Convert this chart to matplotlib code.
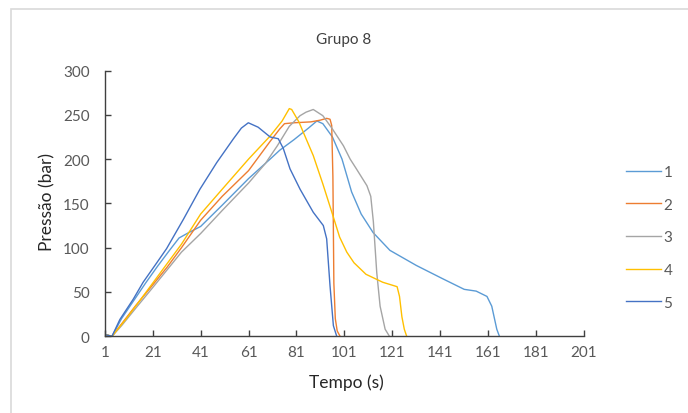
import matplotlib
matplotlib.use("Agg")
import matplotlib.pyplot as plt
from matplotlib.patches import Rectangle

# Pressure (bar) versus time (s) for the five tests of group 8
t1 = [1, 4, 8, 13, 18, 23, 28, 32, 36, 41, 50, 61, 70, 74, 80, 86, 89.5, 92, 96,
      100, 104, 108, 113, 120, 131, 142, 151, 156, 160.5, 162.5, 164.6, 165.7]
p1 = [2, 0, 20, 40, 60, 79, 97, 111, 117, 124, 148, 178, 200, 210, 222, 235, 243,
      240, 225, 200, 163, 138, 117, 97, 80, 65, 53, 51, 45, 34, 8, 0]

t2 = [1, 4, 8, 14, 21, 27, 33, 41, 50, 61, 70, 74, 76, 80, 87, 91, 93.6, 95,
      95.7, 96.2, 96.6, 97.2, 98, 99.2]
p2 = [2, 0, 14, 35, 58, 78, 100, 131, 158, 187, 220, 234, 240, 241, 242, 244,
      246, 245, 238, 180, 60, 20, 6, 0]

t3 = [1, 4, 8, 14, 21, 27, 33, 41, 50, 61, 68, 73, 78, 82.5, 85, 88, 92, 96,
      100.6, 103.4, 106, 110.4, 112, 113.1, 114.5, 115.9, 118, 119.8]
p3 = [2, 0, 12, 32, 55, 75, 95, 116, 142, 173, 195, 215, 237, 249, 253, 256,
      249, 234, 215, 200, 189, 170, 158, 129, 72, 34, 8, 0]

t4 = [1, 4, 10, 15, 21, 27, 33, 41, 50, 61, 70, 75, 78, 79, 82, 88, 92, 96, 99,
      102, 105, 110, 117, 123, 124, 125, 126, 127]
p4 = [2, 0, 20, 38, 60, 82, 104, 138, 166, 200, 226, 243, 257, 256, 242, 204,
      172, 138, 112, 95, 83, 70, 61, 56, 45, 22, 8, 0]

t5 = [1, 4, 7.3, 12.9, 17, 22.7, 26.8, 33.8, 40.7, 47.7, 54.7, 58, 60.9, 65,
      70, 73.4, 75.5, 78.3, 82.5, 88, 92.2, 93.6, 95, 96.4, 97.8]
p5 = [2, 0, 19, 42, 61, 83, 99, 132, 166, 196, 223, 235, 241, 236, 225, 223,
      212, 189, 166, 140, 125, 110, 57, 12, 0]

series_names = ["1", "2", "3", "4", "5"]
series_colors = ["#5B9BD5", "#ED7D31", "#A5A5A5", "#FFC000", "#4472C4"]
x_ticks = list(range(1, 202, 20))
y_ticks = list(range(0, 301, 50))

plt.rcParams["font.family"] = ["Lato", "DejaVu Sans"]

W, H = 688, 414
fig = plt.figure(figsize=(W / 100, H / 100), dpi=100)
fig.patch.set_facecolor("white")

# chart-area frame
fig.patches.append(Rectangle((10.5 / W, -0.1), 1.2, 1.1 - 10.5 / H,
                             transform=fig.transFigure, fill=False,
                             edgecolor="#D9D9D9", linewidth=1.2))

ax = fig.add_axes([104.8 / W, (H - 337.3) / H, 479.2 / W, 265.8 / H])

xs = [t1, t2, t3, t4, t5]
ys = [p1, p2, p3, p4, p5]
for x, y, name, c in zip(xs, ys, series_names, series_colors):
    ax.plot(x, y, color=c, linewidth=1.0, label=name)

ax.set_xlim(1, 201)
ax.set_ylim(0, 300)
ax.set_xticks(x_ticks)
ax.set_yticks(y_ticks)
for s in ("top", "right"):
    ax.spines[s].set_visible(False)
for s in ("left", "bottom"):
    ax.spines[s].set_color("#404040")
    ax.spines[s].set_linewidth(1.0)
ax.tick_params(axis="both", direction="in", length=4, width=1.0,
               color="#404040", labelcolor="#595959", labelsize=11)
ax.tick_params(axis="x", pad=6)
ax.tick_params(axis="y", pad=11)

fig.text(344 / W, 1 - 40 / H, "Grupo 8", ha="center", va="center",
         fontsize=11, color="#404040")
fig.text(346 / W, 1 - 383 / H, "Tempo (s)", ha="center", va="center",
         fontsize=12.5, color="#262626")
fig.text(47.5 / W, 1 - 202 / H, "Pressão (bar)", ha="center", va="center",
         rotation=90, fontsize=12.5, color="#262626")

leg = fig.legend(loc="upper left", bbox_to_anchor=(626 / W, 1 - 166 / H),
                 frameon=False, fontsize=11, handlelength=2.3,
                 handletextpad=0.15, labelspacing=1.22, borderpad=0,
                 borderaxespad=0)
for txt in leg.get_texts():
    txt.set_color("#595959")

fig.savefig("out.png", dpi=100, facecolor="white")
